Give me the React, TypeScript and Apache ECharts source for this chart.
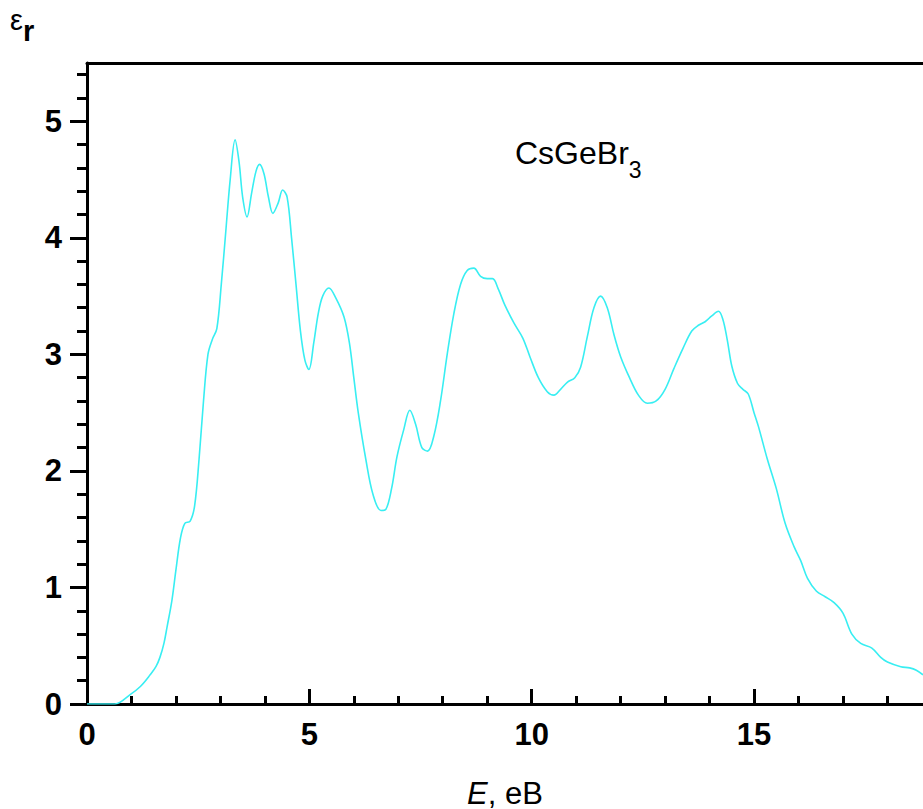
import React, { useEffect, useRef } from "react";
import * as echarts from "echarts";

// Photon energy E (eV) and real part of dielectric function eps_r
const energy = [
  0, 0.3, 0.63, 0.97, 1.2, 1.42, 1.55, 1.64, 1.73, 1.8, 1.91, 2.0, 2.1, 2.2, 2.32, 2.42, 2.52, 2.62, 2.72, 2.82,
  2.92, 3.02, 3.12, 3.22, 3.33, 3.42, 3.5, 3.6, 3.7, 3.8, 3.88, 3.98, 4.08, 4.18, 4.3, 4.4, 4.5, 4.6,
  4.7, 4.8, 4.9, 4.99, 5.1, 5.2, 5.3, 5.44, 5.6, 5.78, 5.9, 6.0, 6.1, 6.27, 6.43, 6.61, 6.72, 6.85,
  6.97, 7.12, 7.26, 7.39, 7.53, 7.66, 7.8, 7.95, 8.1, 8.25, 8.4, 8.55, 8.7, 8.85, 9.0, 9.12, 9.25,
  9.4, 9.6, 9.8, 9.96, 10.15, 10.35, 10.5, 10.65, 10.8, 10.97, 11.1, 11.25, 11.4, 11.55, 11.7, 11.85,
  12.0, 12.2, 12.4, 12.6, 12.8, 13.0, 13.2, 13.4, 13.6, 13.75, 13.9, 14.05, 14.2, 14.3, 14.4, 14.5,
  14.63, 14.75, 14.87, 15.0, 15.1, 15.3, 15.5, 15.7, 15.9, 16.05, 16.2, 16.4, 16.6, 16.8, 17.0, 17.2,
  17.4, 17.65, 17.85, 18.0, 18.3, 18.5, 18.65, 18.8,
];
const epsR = [
  0, 0, 0, 0.08, 0.15, 0.25, 0.32, 0.4, 0.52, 0.66, 0.89, 1.15, 1.42, 1.55, 1.57, 1.7, 2.1, 2.6, 3.0, 3.13,
  3.22, 3.6, 4.05, 4.5, 4.84, 4.65, 4.35, 4.18, 4.38, 4.57, 4.63, 4.55, 4.35, 4.21, 4.3, 4.41, 4.35, 4.0,
  3.6, 3.2, 2.95, 2.87, 3.1, 3.35, 3.5, 3.57, 3.48, 3.32, 3.1, 2.8, 2.5, 2.1, 1.8, 1.66, 1.67, 1.85,
  2.12, 2.35, 2.52, 2.4, 2.2, 2.17, 2.3, 2.6, 3.0, 3.35, 3.6, 3.72, 3.74, 3.67, 3.65, 3.65, 3.56,
  3.42, 3.27, 3.14, 2.98, 2.8, 2.68, 2.65, 2.7, 2.76, 2.8, 2.89, 3.15, 3.4, 3.5, 3.4, 3.17,
  2.98, 2.8, 2.65, 2.58, 2.6, 2.7, 2.88, 3.05, 3.2, 3.25, 3.28, 3.33, 3.37, 3.3, 3.12, 2.9,
  2.75, 2.7, 2.66, 2.5, 2.38, 2.1, 1.85, 1.55, 1.35, 1.23, 1.08, 0.97, 0.92, 0.87, 0.78, 0.6,
  0.52, 0.48, 0.4, 0.36, 0.32, 0.31, 0.29, 0.25,
];

const xMajorTicks = [0, 5, 10, 15];
const xMinorTicks = [1, 2, 3, 4, 6, 7, 8, 9, 11, 12, 13, 14, 16, 17, 18];
const yMajorTicks = [0, 1, 2, 3, 4, 5];
const yMinorTicks = [
  0.2, 0.4, 0.6, 0.8, 1.2, 1.4, 1.6, 1.8, 2.2, 2.4, 2.6, 2.8, 3.2, 3.4, 3.6, 3.8, 4.2, 4.4, 4.6, 4.8,
  5.2, 5.4,
];

const X_MIN = 0;
const X_MAX = 18.8;
const Y_MIN = 0;
const Y_MAX = 5.5;

const FONT = "'Liberation Sans', Arial, sans-serif";

export default function App() {
  const ref = useRef<HTMLDivElement>(null);

  useEffect(() => {
    if (!ref.current) return;
    const chart = echarts.init(ref.current, null, { renderer: "svg" });
    const axisLine = { show: true, lineStyle: { color: "#000", width: 3 } };
    const hiddenLine = { show: false };
    chart.setOption({
      animation: false,
      backgroundColor: "#fff",
      grid: { left: 87, top: 63, right: 0, bottom: 105, containLabel: false, outerBoundsMode: "none" },
      xAxis: [
        {
          type: "value",
          position: "bottom",
          min: X_MIN,
          max: X_MAX,
          axisLine,
          splitLine: { show: false },
          axisTick: {
            show: true,
            inside: true,
            length: 15,
            customValues: xMajorTicks,
            lineStyle: { color: "#000", width: 3 },
          },
          axisLabel: {
            show: true,
            customValues: xMajorTicks,
            margin: 15,
            fontSize: 31,
            fontWeight: "bold",
            fontFamily: FONT,
            color: "#000",
          },
        },
        {
          type: "value",
          position: "bottom",
          offset: 0,
          min: X_MIN,
          max: X_MAX,
          axisLine: hiddenLine,
          splitLine: { show: false },
          axisTick: {
            show: true,
            inside: true,
            length: 8,
            customValues: xMinorTicks,
            lineStyle: { color: "#000", width: 3 },
          },
          axisLabel: { show: false },
        },
        {
          type: "value",
          position: "top",
          offset: 0,
          min: X_MIN,
          max: X_MAX,
          axisLine,
          splitLine: { show: false },
          axisTick: { show: false },
          axisLabel: { show: false },
        },
      ],
      yAxis: [
        {
          type: "value",
          position: "left",
          min: Y_MIN,
          max: Y_MAX,
          axisLine,
          splitLine: { show: false },
          axisTick: {
            show: true,
            inside: false,
            length: 17,
            customValues: yMajorTicks,
            lineStyle: { color: "#000", width: 3 },
          },
          axisLabel: {
            show: true,
            customValues: yMajorTicks,
            margin: 25,
            fontSize: 31,
            fontWeight: "bold",
            fontFamily: FONT,
            color: "#000",
          },
        },
        {
          type: "value",
          position: "left",
          offset: 0,
          min: Y_MIN,
          max: Y_MAX,
          axisLine: hiddenLine,
          splitLine: { show: false },
          axisTick: {
            show: true,
            inside: false,
            length: 10,
            customValues: yMinorTicks,
            lineStyle: { color: "#000", width: 3 },
          },
          axisLabel: { show: false },
        },
      ],
      series: [
        {
          type: "line",
          xAxisIndex: 0,
          yAxisIndex: 0,
          data: energy.map((e, i) => [e, epsR[i]]),
          showSymbol: false,
          smooth: 0.35,
          lineStyle: { color: "#38EEF2", width: 1.6 },
          clip: true,
        },
      ],
      graphic: [
        {
          type: "text",
          x: 515,
          y: 137,
          style: {
            text: "{a|CsGeBr}{b|3}",
            fill: "#000",
            rich: {
              a: { fontSize: 32, fontFamily: FONT, lineHeight: 36, verticalAlign: "top", fill: "#000" },
              b: {
                fontSize: 23,
                fontFamily: FONT,
                lineHeight: 24,
                verticalAlign: "top",
                padding: [21, 0, 0, 0],
                fill: "#000",
              },
            },
          },
        },
        {
          type: "text",
          x: 505,
          y: 793,
          style: {
            text: "{i|E}{n|, eB}",
            align: "center",
            verticalAlign: "middle",
            fill: "#000",
            rich: {
              i: { fontSize: 31, fontFamily: FONT, fontStyle: "italic", fill: "#000" },
              n: { fontSize: 31, fontFamily: FONT, fill: "#000" },
            },
          },
        },
        {
          type: "text",
          x: 10,
          y: 5,
          style: {
            text: "{a|ε}{b|r}",
            fill: "#000",
            rich: {
              a: { fontSize: 29, fontFamily: FONT, lineHeight: 30, verticalAlign: "top", fill: "#000" },
              b: {
                fontSize: 29,
                fontFamily: FONT,
                fontWeight: "bold",
                lineHeight: 30,
                verticalAlign: "top",
                padding: [11, 0, 0, 0],
                fill: "#000",
              },
            },
          },
        },
      ],
    });
    return () => chart.dispose();
  }, []);

  return (
    <div
      ref={ref}
      style={{ position: "absolute", left: 0, top: 0, width: 923, height: 809, background: "#fff" }}
    />
  );
}
